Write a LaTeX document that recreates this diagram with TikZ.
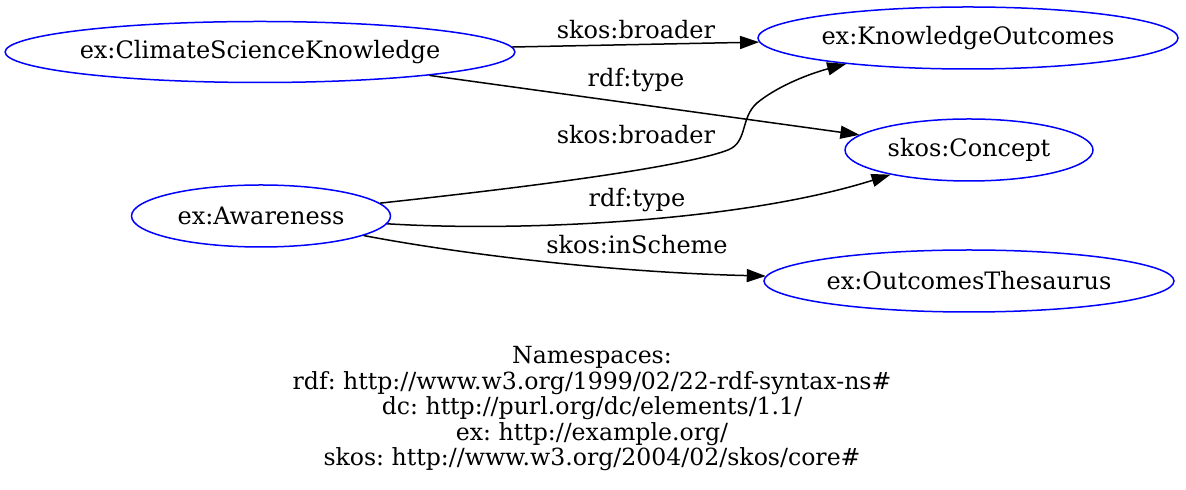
\documentclass[tikz,border=0pt]{standalone}
\usepackage{fontspec}
\setmainfont{DejaVu Serif}
\usetikzlibrary{shapes.geometric,arrows.meta}
\begin{document}
\frenchspacing
\begin{tikzpicture}[x=0.5pt,y=-0.5pt,
  font=\fontsize{12}{14}\selectfont,
  nd/.style={ellipse, draw=blue, line width=0.75pt, inner sep=0pt},
  edge/.style={draw=black, line width=0.75pt, -{Triangle[length=9.5pt,width=6.5pt]}},
  lbl/.style={inner sep=0pt}]
\useasboundingbox (0,0) rectangle (1186,490);
\node[nd, minimum width=253pt, minimum height=30.5pt] (csk) at (260,52) {ex:ClimateScienceKnowledge};
\node[nd, minimum width=210pt, minimum height=31pt] (ko) at (968,38) {ex:KnowledgeOutcomes};
\node[nd, minimum width=124pt, minimum height=31pt] (con) at (969,150) {skos:Concept};
\node[nd, minimum width=129.5pt, minimum height=31pt] (aw) at (261,216) {ex:Awareness};
\node[nd, minimum width=205pt, minimum height=31pt] (ot) at (969,281) {ex:OutcomesThesaurus};

\draw[edge] (csk) -- (ko);
\draw[edge] (csk) -- (con);
\draw[edge] (aw) .. controls (520,188) and (680,168) .. (728,150)
  .. controls (748,142) and (740,118) .. (757,103)
  .. controls (775,88) and (805,75) .. (ko.192);
\draw[edge] (aw) .. controls (520,232) and (740,222) .. (con);
\draw[edge] (aw) .. controls (450,252) and (600,272) .. (ot);

\node[lbl] (l1) at (636,30) {skos:broader};
\node[lbl] (l2) at (636,80) {rdf:type};
\node[lbl] (l3) at (636,135) {skos:broader};
\node[lbl] (l4) at (637,200) {rdf:type};
\node[lbl] (l5) at (637,245) {skos:inScheme};

\node[lbl, align=center, font=\fontsize{11.8}{12.75}\selectfont] (ns) at (592,409)
  {Namespaces:\\rdf: http://www.w3.org/1999/02/22-rdf-syntax-ns\#\\dc: http://purl.org/dc/elements/1.1/\\ex: http://example.org/\\skos: http://www.w3.org/2004/02/skos/core\#};
\end{tikzpicture}
\end{document}
